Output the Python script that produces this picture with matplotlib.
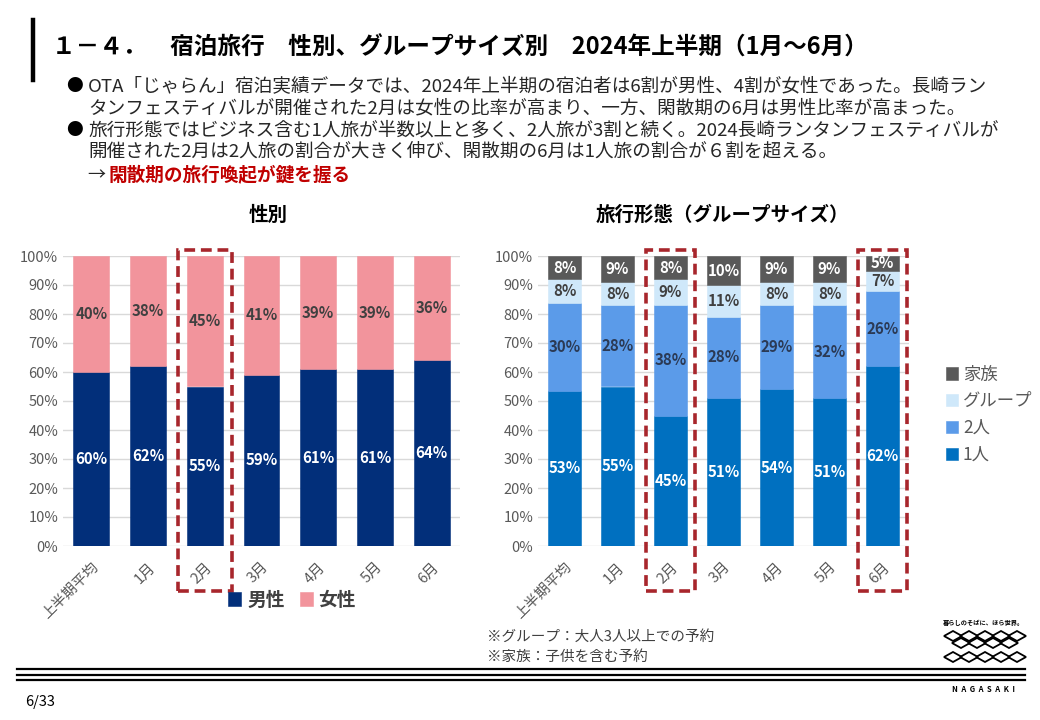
import numpy as np
import matplotlib
matplotlib.use("Agg")
import matplotlib.pyplot as plt
from matplotlib.patches import Rectangle, Polygon
from matplotlib.lines import Line2D

plt.rcParams['font.family'] = ['Noto Sans CJK JP', 'DejaVu Sans']

# data
months = ["上半期平均", "1月", "2月", "3月", "4月", "5月", "6月"]
male = [60, 62, 55, 59, 61, 61, 64]
female = [40, 38, 45, 41, 39, 39, 36]
solo = [53, 55, 45, 51, 54, 51, 62]
pair = [30, 28, 38, 28, 29, 32, 26]
group = [8, 8, 9, 11, 8, 8, 7]
family = [8, 9, 8, 10, 9, 9, 5]

W, H = 1040, 720
fig = plt.figure(figsize=(W / 100, H / 100), dpi=100)

def fx(px):
    return px / W

def fy(py):
    return 1 - py / H

TICK = "#595959"
GRID = "#D9D9D9"
BOX = "#A8262C"

def style_axis(ax):
    ax.set_ylim(0, 100)
    ax.set_xlim(-0.5, len(months) - 0.5)
    ax.set_yticks(np.arange(0, 101, 10))
    ax.set_yticklabels([f"{v}%" for v in range(0, 101, 10)])
    ax.set_xticks(range(len(months)))
    ax.set_xticklabels(months, rotation=45, ha="right", rotation_mode="anchor")
    ax.tick_params(axis="both", length=0, colors=TICK, labelsize=10.5)
    ax.tick_params(axis="x", pad=10)
    for s in ax.spines.values():
        s.set_visible(False)
    ax.grid(axis="y", color=GRID, linewidth=1)
    ax.set_axisbelow(True)

def stack(ax, series, colors, txtcols, width):
    x = np.arange(len(months))
    vals = np.array(series, dtype=float)
    shares = vals / vals.sum(axis=0) * 100
    bottom = np.zeros(len(months))
    bars = []
    for i in range(len(series)):
        b = ax.bar(x, shares[i], width, bottom=bottom, color=colors[i],
                   edgecolor=colors[i], linewidth=0.4, zorder=2)
        bars.append(b)
        for j in range(len(months)):
            ax.text(x[j], bottom[j] + shares[i][j] / 2, f"{series[i][j]}%",
                    ha="center", va="center", fontsize=10.8, fontweight="bold",
                    color=txtcols[i], zorder=3)
        bottom += shares[i]
    return bars

def dashed_box(ax, xc, half=0.48):
    r = Rectangle((xc - half, -15.5), 2 * half, 117.5, fill=False,
                  linestyle=(0, (3, 1.6)), linewidth=2.6, edgecolor=BOX,
                  clip_on=False, zorder=4)
    ax.add_patch(r)

# left chart: gender
ax1 = fig.add_axes([fx(63), fy(546), fx(460 - 63), (546 - 256) / H])
style_axis(ax1)
b1 = stack(ax1, [male, female], ["#022F7A", "#F2949C"], ["white", "#404040"], 0.63)
dashed_box(ax1, 2)
ax1.legend([b1[0], b1[1]], ["男性", "女性"], ncol=2, frameon=False,
           loc="center", bbox_to_anchor=(fx(292), fy(600)),
           bbox_transform=fig.transFigure, handlelength=0.7, handleheight=0.7,
           handletextpad=0.3, columnspacing=0.8,
           prop={"size": 13.5, "weight": "bold"}, labelcolor="#404040")

# right chart: group size
ax2 = fig.add_axes([fx(538), fy(546), fx(909 - 538), (546 - 256) / H])
style_axis(ax2)
b2 = stack(ax2, [solo, pair, group, family],
           ["#0070C0", "#5B9BE9", "#CFE8FA", "#595959"],
           ["white", "#2B3A55", "#404040", "white"], 0.62)
dashed_box(ax2, 2, 0.47)
dashed_box(ax2, 6, 0.47)
ax2.legend([b2[3], b2[2], b2[1], b2[0]], ["家族", "グループ", "2人", "1人"],
           frameon=False, loc="upper left", bbox_to_anchor=(fx(930), fy(350)),
           bbox_transform=fig.transFigure, handlelength=0.7, handleheight=0.7,
           handletextpad=0.3, labelspacing=0.5, prop={"size": 12.5},
           labelcolor=TICK)

# subtitles
fig.text(fx(268), fy(215), "性別", ha="center", va="center", fontsize=14, fontweight="bold")
fig.text(fx(722), fy(215), "旅行形態（グループサイズ）", ha="center", va="center",
         fontsize=14, fontweight="bold")

# header
fig.add_artist(Line2D([fx(33), fx(33)], [fy(20), fy(80)], color="black", linewidth=3.2))
fig.text(fx(52), fy(48), "１－４．　宿泊旅行　性別、グループサイズ別　2024年上半期（1月～6月）",
         ha="left", va="center", fontsize=17, fontweight="bold")

body = [
    (86, "●", "OTA「じゃらん」宿泊実績データでは、2024年上半期の宿泊者は6割が男性、4割が女性であった。長崎ラン"),
    (108, "", "タンフェスティバルが開催された2月は女性の比率が高まり、一方、閑散期の6月は男性比率が高まった。"),
    (130, "●", "旅行形態ではビジネス含む1人旅が半数以上と多く、2人旅が3割と続く。2024長崎ランタンフェスティバルが"),
    (152, "", "開催された2月は2人旅の割合が大きく伸び、閑散期の6月は1人旅の割合が６割を超える。"),
]
for y, bullet, txt in body:
    if bullet:
        fig.text(fx(66), fy(y), bullet, ha="left", va="center", fontsize=12)
    fig.text(fx(88), fy(y), txt, ha="left", va="center", fontsize=13.4, color="#262626")
fig.text(fx(87), fy(175), "→", ha="left", va="center", fontsize=13, color="#262626")
fig.text(fx(108), fy(175), "閑散期の旅行喚起が鍵を握る", ha="left", va="center",
         fontsize=13.4, fontweight="bold", color="#C00000")

# notes
fig.text(fx(487), fy(637), "※グループ：大人3人以上での予約", ha="left", va="center",
         fontsize=10.5, color="#404040")
fig.text(fx(487), fy(657), "※家族：子供を含む予約", ha="left", va="center",
         fontsize=10.5, color="#404040")

# footer lines
for y in (669, 674.5, 680):
    fig.add_artist(Line2D([fx(17), fx(1025)], [fy(y), fy(y)], color="black", linewidth=1.6))
fig.text(fx(25), fy(702), "6/33", ha="left", va="center", fontsize=10.5)

# logo
fig.text(fx(983), fy(623), "暮らしのそばに、ほら世界。", ha="center", va="center",
         fontsize=4.5, fontweight="bold")
for cy, xs in ((636, np.arange(953, 1020, 16)), (643, np.arange(961, 1020, 16)),
               (657, np.arange(953, 1020, 16))):
    for cx in xs:
        pts = [(fx(cx - 9), fy(cy)), (fx(cx), fy(cy - 5)), (fx(cx + 9), fy(cy)), (fx(cx), fy(cy + 5))]
        fig.add_artist(Polygon(pts, closed=True, fill=False, edgecolor="black", linewidth=1.3))
fig.text(fx(984), fy(689), "N  A  G  A  S  A  K  I", ha="center", va="center",
         fontsize=5.5, fontweight="bold")

fig.savefig("out.png", dpi=100)
